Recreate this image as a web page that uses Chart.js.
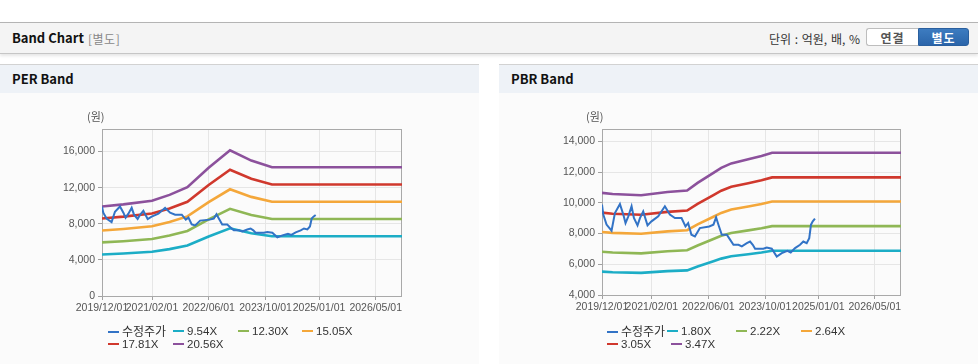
<!DOCTYPE html>
<html><head><meta charset="utf-8">
<script src="https://cdn.jsdelivr.net/npm/chart.js@4.4.1/dist/chart.umd.min.js"></script>
<style>
html,body{margin:0;padding:0}
body{width:978px;height:364px;overflow:hidden;background:#fff;position:relative;font-family:"Noto Sans CJK KR","Noto Sans",sans-serif;color:#111}
.hdr{position:absolute;left:0;top:22px;width:978px;height:30px;background:#f4f4f4;border-top:1px solid #b4b4b4;border-bottom:1px solid #c6c6c6;box-shadow:0 2px 3px rgba(0,0,0,0.10)}
.hdr .t{position:absolute;left:12px;top:6px;font-size:13px;font-weight:bold;color:#111;line-height:18px}
.hdr .s{position:absolute;left:88px;top:7px;font-size:12px;color:#888;line-height:17px;letter-spacing:0.5px}
.hdr .u{position:absolute;right:118px;top:7px;font-size:12px;color:#333;line-height:17px;word-spacing:1px}
.btn{position:absolute;top:5px;height:18px;line-height:18px;font-size:12px;font-weight:bold;text-align:center;box-sizing:border-box;letter-spacing:1px}
.b1{left:866px;width:52px;background:#fff;border:1px solid #bdbdbd;border-right:none;border-radius:3px 0 0 3px;color:#555}
.b2{left:918px;width:51px;background:linear-gradient(#3d7cc0,#2b65aa);border:1px solid #2a5f9e;border-radius:0 3px 3px 0;color:#fff}
.panel{position:absolute;top:64px;width:479px;height:300px;background:#fbfbfb;border-top:1px solid #d2d2d2}
.panel .ttl{height:28px;background:#eef2f7;font-size:13px;font-weight:bold;line-height:28px;padding-left:12px;color:#111}
.cw{position:absolute;left:0;top:29px;width:479px;height:271px}
.unit{position:absolute;top:108px;font-size:11px;color:#555;line-height:16px}
.leg{position:absolute;font-family:"Liberation Sans","Noto Sans CJK KR",sans-serif;font-size:11.5px;color:#333}
.li{position:absolute;white-space:nowrap;line-height:14px;height:14px}
.li i{display:inline-block;width:11px;height:2px;vertical-align:middle;margin-right:3px;position:relative;top:-1px}
.li b{font-weight:normal;font-family:"Noto Sans CJK KR",sans-serif;font-size:12px}
</style></head>
<body>
<div class="hdr"><span class="t">Band Chart</span><span class="s">[별도]</span><span class="u">단위 : 억원, 배, %</span>
<div class="btn b1">연결</div><div class="btn b2">별도</div></div>

<div class="panel" style="left:0"><div class="ttl">PER Band</div><div class="cw"><canvas id="per"></canvas></div></div>
<div class="panel" style="left:499px"><div class="ttl">PBR Band</div><div class="cw"><canvas id="pbr"></canvas></div></div>
<div class="unit" style="left:87px">(원)</div>
<div class="unit" style="left:586px">(원)</div>
<div class="leg" id="perLeg" style="left:0;top:0"></div>
<div class="leg" id="pbrLeg" style="left:0;top:0"></div>

<script>
// ---------- DATA ----------
const xTickLabels = ['2019/12/01','2021/02/01','2022/06/01','2023/10/01','2025/01/01','2026/05/01'];
const xStart = '2019-12-01';
const xEnd = '2026-12-12';

const priceName = '수정주가';
const priceDates = ['2019-12-01','2019-12-12','2020-01-09','2020-02-21','2020-03-21','2020-05-03','2020-06-01','2020-06-20','2020-07-14','2020-08-11','2020-08-31','2020-10-01','2020-10-22','2020-11-19','2020-12-26','2021-01-29','2021-03-28','2021-05-24','2021-07-06','2021-08-18','2021-10-14','2021-11-17','2021-12-10','2022-01-07','2022-02-06','2022-03-20','2022-06-09','2022-07-15','2022-08-07','2022-08-27','2022-09-25','2022-11-07','2022-12-05','2023-01-03','2023-02-15','2023-03-16','2023-04-28','2023-05-26','2023-06-18','2023-07-08','2023-09-17','2023-10-16','2023-11-28','2024-01-10','2024-02-22','2024-04-10','2024-05-09','2024-06-15','2024-07-28','2024-08-25','2024-09-23','2024-10-15','2024-10-30','2024-11-14','2024-12-03'];
const priceValues = [9880,9230,8580,8180,9330,9920,9230,8680,9120,9770,9010,8530,9000,9440,8530,8790,9120,9770,9230,9010,9010,8460,8680,7920,7810,8350,8460,8575,9050,8575,7920,7920,7600,7270,7270,7160,7370,7480,7270,7010,7010,7090,7010,6500,6720,6880,6770,7050,7270,7480,7370,7700,8575,8790,8970];

const perBandNames = ['9.54X','12.30X','15.05X','17.81X','20.56X'];
const perBandDates = ['2019-12-01','2020-06-01','2021-02-01','2021-07-01','2021-12-01','2022-06-01','2022-12-01','2023-06-01','2023-11-25','2026-12-12'];
const per954  = [4603,4710,4895,5196,5591,6589,7494,6960,6617,6617];
const per1230 = [5935,6073,6311,6700,7209,8496,9662,8974,8531,8531];
const per1505 = [7262,7430,7722,8198,8821,10395,11822,10980,10439,10439];
const per1781 = [8593,8793,9138,9701,10438,12301,13990,12994,12353,12353];
const per2056 = [9920,10150,10550,11199,12050,14201,16150,15001,14260,14260];
const perYTicks = [0,4000,8000,12000,16000];

const pbrBandNames = ['1.80X','2.22X','2.64X','3.05X','3.47X'];
const pbrBandDates = ['2019-12-01','2020-03-01','2020-11-01','2021-06-15','2021-12-01','2022-03-01','2022-07-15','2022-09-20','2022-12-15','2023-05-10','2023-09-01','2023-12-01','2026-12-12'];
const pbr180 = [5522,5483,5441,5551,5602,5857,6199,6367,6516,6653,6764,6876,6876];
const pbr222 = [6811,6762,6711,6846,6909,7224,7646,7852,8036,8205,8343,8480,8480];
const pbr264 = [8100,8041,7981,8142,8216,8591,9092,9338,9557,9757,9921,10085,10085];
const pbr305 = [9357,9290,9220,9406,9492,9925,10504,10788,11041,11273,11462,11651,11651];
const pbr347 = [10646,10570,10490,10701,10799,11291,11951,12273,12561,12825,13040,13255,13255];
const pbrYTicks = [4000,6000,8000,10000,12000,14000];

// ---------- STYLE ----------
const priceColor = '#3273c6';
const bandColors = ['#1cadc6','#8fb755','#f4a73a','#d0382d','#8c519c'];

function ts(s){const p=s.split(/[-\/]/).map(Number);return Date.UTC(p[0],p[1]-1,p[2]);}
function fmtDate(v){const d=new Date(v);const m=d.getUTCMonth()+1,dd=d.getUTCDate();return d.getUTCFullYear()+'/'+(m<10?'0':'')+m+'/'+(dd<10?'0':'')+dd;}
const xTickValues = xTickLabels.map(ts);

const tickFont = {family:'"Liberation Sans Narrow","Liberation Sans",Arial,sans-serif', size:10.5};

const framePlugin = {
  id:'frame',
  beforeDatasetsDraw(chart){
    const a=chart.chartArea, c=chart.ctx;
    c.save(); c.strokeStyle='#a9a9a9'; c.lineWidth=1;
    c.strokeRect(Math.round(a.left)+0.5, Math.round(a.top)+0.5, Math.round(a.right-a.left)-1, Math.round(a.bottom-a.top));
    c.restore();
  }
};

function makeChart(id, bandDates, bands, names, yMin, yMax, yTicks, yWidth, padBottom){
  const datasets = [{
    label: priceName,
    data: priceDates.map((d,i)=>({x:ts(d), y:priceValues[i]})),
    borderColor: priceColor, borderWidth: 2, pointRadius:0, tension:0, fill:false
  }];
  bands.forEach((arr,k)=>{
    datasets.push({
      label: names[k],
      data: bandDates.map((d,i)=>({x:ts(d), y:arr[i]})),
      borderColor: bandColors[k], borderWidth: 2.6, pointRadius:0, tension:0, fill:false
    });
  });
  return new Chart(document.getElementById(id), {
    type:'line',
    data:{datasets},
    plugins:[framePlugin],
    options:{
      responsive:true, maintainAspectRatio:false, animation:false,
      layout:{padding:{left:0,right:77,top:35,bottom:padBottom}},
      plugins:{legend:{display:false}, tooltip:{enabled:false}},
      scales:{
        x:{type:'linear', min:ts(xStart), max:ts(xEnd),
           afterBuildTicks(s){ s.ticks = xTickValues.map(v=>({value:v})); },
           afterFit(s){ s.height = 20; },
           grid:{color:'#e6e6e6', tickColor:'#a0a0a0', tickLength:4, drawTicks:true},
           border:{display:false},
           ticks:{callback:(v)=>fmtDate(v), color:'#555', font:tickFont, padding:2, maxRotation:0, autoSkip:false}
        },
        y:{type:'linear', min:yMin, max:yMax,
           afterBuildTicks(s){ s.ticks = yTicks.map(v=>({value:v})); },
           afterFit(s){ s.width = yWidth; },
           grid:{color:'#e6e6e6', tickColor:'#a0a0a0', tickLength:4, drawTicks:true},
           border:{display:false},
           ticks:{callback:(v)=>v.toLocaleString('en-US'), color:'#555', font:tickFont, padding:3}
        }
      }
    }
  });
}

makeChart('per', perBandDates, [per954,per1230,per1505,per1781,per2056], perBandNames, 0, 18500, perYTicks, 102, 49);
makeChart('pbr', pbrBandDates, [pbr180,pbr222,pbr264,pbr305,pbr347], pbrBandNames, 4000, 14800, pbrYTicks, 103, 50);

function buildLegend(elId, names, cols, rowTops){
  const el=document.getElementById(elId);
  const all=[{n:priceName,c:priceColor,k:true}].concat(names.map((n,k)=>({n,c:bandColors[k]})));
  all.forEach((it,i)=>{
    const r=Math.floor(i/4), col=i%4;
    const d=document.createElement('div');
    d.className='li';
    d.style.left=cols[r][col]+'px'; d.style.top=rowTops[r]+'px';
    d.innerHTML='<i style="background:'+it.c+'"></i>'+(it.k?'<b>'+it.n+'</b>':it.n);
    el.appendChild(d);
  });
}
buildLegend('perLeg', perBandNames, [[108,173,238,302],[108,173]], [324,337]);
buildLegend('pbrLeg', pbrBandNames, [[607,667,736,801],[607,671]], [324,337]);
</script>
</body></html>
